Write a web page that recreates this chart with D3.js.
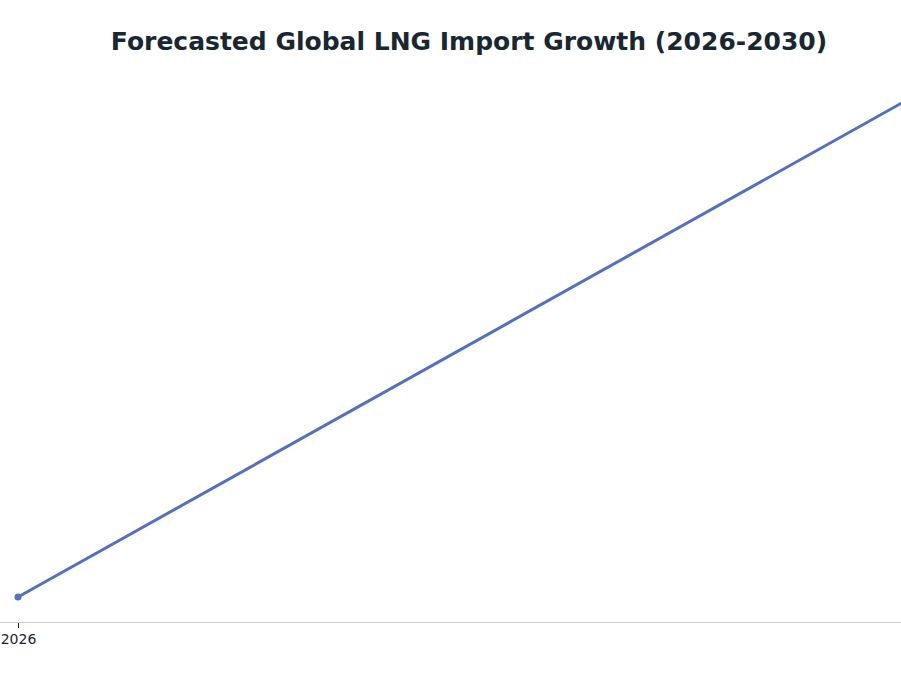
<!DOCTYPE html>
<html>
<head>
<meta charset="utf-8">
<script src="https://cdn.jsdelivr.net/npm/d3@7"></script>
<style>
  body { margin: 0; background: #fff; }
  svg { display: block; font-family: "DejaVu Sans", sans-serif; }
</style>
</head>
<body>
<div id="chart"></div>
<script>
// forecast data (bcm), only the first segment lands inside the window
const years = [2026, 2027, 2028, 2029, 2030];
const imports = [410, 436, 462, 489, 515];
const tickLabels = ["2026", "2027", "2028", "2029", "2030"];

const width = 901, height = 676;
const margin = { top: 70, right: 0, bottom: 54, left: 18 };
const step = 1000; // px per year

const svg = d3.select("#chart")
  .append("svg")
  .attr("width", width)
  .attr("height", height);

svg.append("text")
  .attr("x", 469)
  .attr("y", 50)
  .attr("text-anchor", "middle")
  .attr("fill", "#172833")
  .style("font-family", "'DejaVu Sans', sans-serif")
  .style("font-size", "25px")
  .style("font-weight", "bold")
  .text("Forecasted Global LNG Import Growth (2026-2030)");

const axisY = height - margin.bottom;

const x = d3.scaleLinear()
  .domain([years[0], years[years.length - 1]])
  .range([margin.left, margin.left + step * (years.length - 1)]);

// 25px gap under first point, slope set by px per unit
const pxPerUnit = 21.5;
const y = d3.scaleLinear()
  .domain([imports[0], imports[imports.length - 1]])
  .range([axisY - 25, axisY - 25 - pxPerUnit * (imports[imports.length - 1] - imports[0])]);

// x axis, only ticks that fall inside the window
const visibleYears = years.filter((d) => x(d) <= width);
const xAxis = d3.axisBottom(x)
  .tickValues(visibleYears)
  .tickFormat((d) => tickLabels[years.indexOf(d)])
  .tickSizeOuter(0)
  .tickSize(6);

const gx = svg.append("g")
  .attr("transform", `translate(0, ${axisY})`)
  .call(xAxis);
gx.select(".domain").remove();
gx.selectAll(".tick line").attr("stroke", "#172833");
gx.selectAll(".tick text")
  .attr("fill", "#172833")
  .attr("dy", "0.9em")
  .style("font-family", "'DejaVu Sans', sans-serif")
  .style("font-size", "14px");

svg.append("line")
  .attr("x1", 0)
  .attr("x2", width)
  .attr("y1", axisY + 0.5)
  .attr("y2", axisY + 0.5)
  .attr("stroke", "#cccccc")
  .attr("stroke-width", 1);

const line = d3.line()
  .x((d, i) => x(years[i]))
  .y((d) => y(d));

svg.append("path")
  .datum(imports)
  .attr("fill", "none")
  .attr("stroke", "#5470c6")
  .attr("stroke-width", 3)
  .attr("d", line);

svg.selectAll("circle")
  .data(imports)
  .enter()
  .append("circle")
  .attr("cx", (d, i) => x(years[i]))
  .attr("cy", (d) => y(d))
  .attr("r", 3.5)
  .attr("fill", "#5470c6");
</script>
</body>
</html>
